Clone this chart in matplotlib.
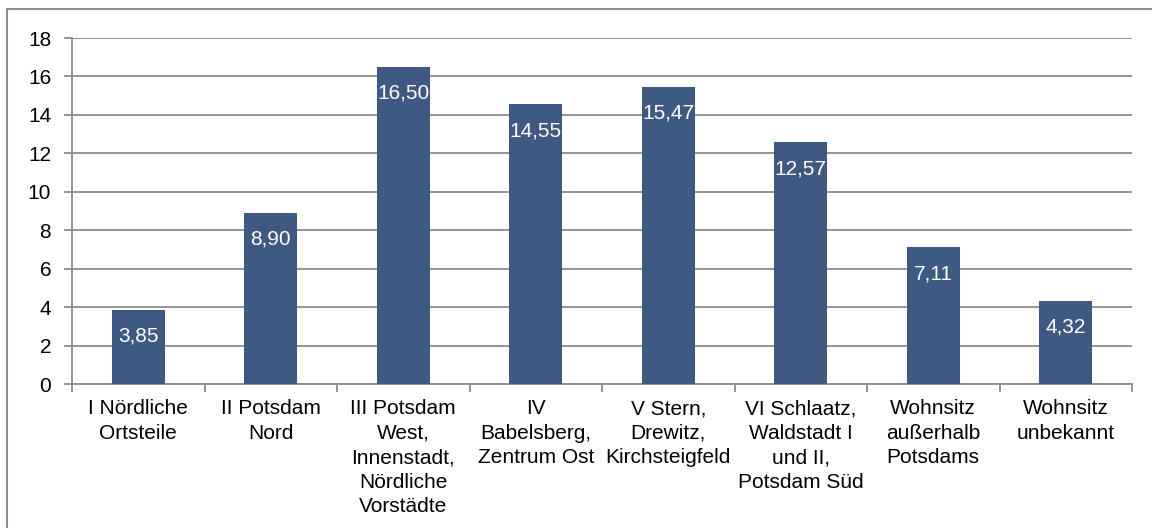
import numpy as np
import matplotlib.pyplot as plt
from matplotlib.lines import Line2D

# data
categories = ['I Nördliche\nOrtsteile', 'II Potsdam\nNord',
              'III Potsdam\nWest,\nInnenstadt,\nNördliche\nVorstädte',
              'IV\nBabelsberg,\nZentrum Ost', 'V Stern,\nDrewitz,\nKirchsteigfeld',
              'VI Schlaatz,\nWaldstadt I\nund II,\nPotsdam Süd',
              'Wohnsitz\naußerhalb\nPotsdams', 'Wohnsitz\nunbekannt']
values = [3.85, 8.90, 16.50, 14.55, 15.47, 12.57, 7.11, 4.32]
yticks = [0, 2, 4, 6, 8, 10, 12, 14, 16, 18]

plt.rcParams['font.family'] = ['Liberation Sans', 'DejaVu Sans']

fig = plt.figure(figsize=(11.52, 5.28), dpi=100)
ax = fig.add_axes([72 / 1152, 1 - 384 / 528, (1132 - 72) / 1152, (384 - 38) / 528])

x = np.arange(len(values))
bars = ax.bar(x, values, width=0.4, color='#3F5A82', zorder=3)

# value labels inside bars
for xi, v in zip(x, values):
    ax.annotate(f'{v:.2f}'.replace('.', ','), (xi, v), xytext=(0, -19),
                textcoords='offset points', ha='center', va='center',
                color='white', fontsize=15, zorder=4)

ax.set_xlim(-0.5, len(values) - 0.5)
ax.set_ylim(0, 18)
ax.set_yticks(yticks)
ax.set_yticklabels([str(t) for t in yticks], fontsize=15)
ax.yaxis.grid(True, color='#8C8C8C', linewidth=1.3, zorder=0)

# category labels centered, ticks at boundaries
ax.set_xticks(x)
ax.set_xticklabels(categories, fontsize=15, linespacing=1.37)
ax.tick_params(axis='x', which='major', length=0, pad=11)
ax.set_xticks(np.arange(len(values) + 1) - 0.5, minor=True)
ax.tick_params(axis='x', which='minor', length=6, width=1.3, color='#8C8C8C')
ax.tick_params(axis='y', length=6, width=1.3, color='#8C8C8C', pad=9)

for s in ['top', 'right']:
    ax.spines[s].set_visible(False)
for s in ['left', 'bottom']:
    ax.spines[s].set_color('#8C8C8C')
    ax.spines[s].set_linewidth(1.3)

# outer chart frame (partly cropped)
fig.add_artist(Line2D([7 / 1152, 1.0], [1 - 9 / 528, 1 - 9 / 528],
                      transform=fig.transFigure, color='#8C8C8C', linewidth=1.5))
fig.add_artist(Line2D([7 / 1152, 7 / 1152], [0, 1 - 9 / 528],
                      transform=fig.transFigure, color='#8C8C8C', linewidth=1.5))

fig.savefig('out.png', dpi=100)
